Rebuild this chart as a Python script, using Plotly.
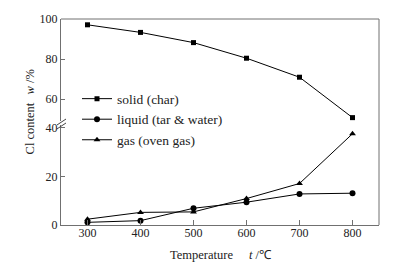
import plotly.graph_objects as go

temps = [300, 400, 500, 600, 700, 800]
solid = [97.1, 93.3, 88.2, 80.4, 70.9, 50.7]
liquid = [1.1, 1.8, 6.9, 9.4, 12.8, 13.1]
gas = [2.4, 5.2, 5.4, 10.9, 17.1, 37.6]
x_ticks = [300, 400, 500, 600, 700, 800]
y_low_ticks = [0, 20, 40]
y_up_ticks = [60, 80, 100]

FONT = "Liberation Serif, Times New Roman, serif"
AX = "#707070"

# plot area pixels
L, R, T, B = 61, 379, 17, 225
W, H = R - L, B - T
def px(x): return (x - L) / W
def py(y): return (B - y) / H

fig = go.Figure()
fig.add_trace(go.Scatter(x=temps, y=solid, name="solid (char)", mode="lines+markers",
                         yaxis="y2", line=dict(color="black", width=1),
                         marker=dict(symbol="square", size=5, color="black"),
                         legendgroup="a"))
fig.add_trace(go.Scatter(x=temps, y=liquid, name="liquid (tar & water)", mode="lines+markers",
                         line=dict(color="black", width=1),
                         marker=dict(symbol="circle", size=6, color="black"),
                         legendgroup="b"))
fig.add_trace(go.Scatter(x=temps, y=gas, name="gas (oven gas)", mode="lines+markers",
                         line=dict(color="black", width=1),
                         marker=dict(symbol="triangle-up", size=6, color="black"),
                         legendgroup="c"))

low_top = py(124)
up_bot = py(120)

fig.update_layout(
    width=393, height=266,
    margin=dict(l=L, r=393 - R, t=T, b=266 - B, pad=0),
    paper_bgcolor="white", plot_bgcolor="white",
    font=dict(family=FONT, size=12, color="#222"),
    showlegend=True,
    legend=dict(x=px(77), y=py(82), xanchor="left", yanchor="top",
                bgcolor="rgba(0,0,0,0)", itemwidth=30, traceorder="grouped",
                tracegroupgap=0, font=dict(family=FONT, size=13.5, color="#222")),
    xaxis=dict(range=[250, 850], tickvals=x_ticks, ticks="inside", ticklen=5,
               tickcolor=AX, showline=True, linecolor=AX, linewidth=1,
               ticklabelstandoff=-3,
               showgrid=False, zeroline=False, anchor="y"),
    yaxis=dict(domain=[0, low_top], range=[0, (B - 124) / 2.45], tickvals=y_low_ticks,
               ticks="inside", ticklen=4, tickcolor=AX, showline=True, linecolor=AX,
               linewidth=1, showgrid=False, zeroline=False, anchor="x"),
    yaxis2=dict(domain=[up_bot, 1], range=[100 - (120 - T) / 2.02, 100], tickvals=y_up_ticks,
                ticks="inside", ticklen=4, tickcolor=AX, showline=True, linecolor=AX,
                linewidth=1, showgrid=False, zeroline=False, anchor="x"),
)

# frame top and right
fig.add_shape(type="line", xref="paper", yref="paper", x0=0, x1=1, y0=1, y1=1,
              line=dict(color=AX, width=1))
fig.add_shape(type="line", xref="paper", yref="paper", x0=1, x1=1, y0=0, y1=1,
              line=dict(color=AX, width=1))
# axis break marks
for dy in (-2, 2):
    fig.add_shape(type="line", xref="paper", yref="paper",
                  x0=px(57), x1=px(66), y0=py(126 + dy), y1=py(120 + dy),
                  line=dict(color="#444", width=1))

# axis titles
ann = dict(xref="paper", yref="paper", showarrow=False, xanchor="center",
           yanchor="middle", font=dict(size=12.5))
fig.add_annotation(text="Cl content", x=px(30), y=py(127.5), textangle=-90, **ann)
fig.add_annotation(text="<i>w</i> /%", x=px(30), y=py(80), textangle=-90, **ann)
fig.add_annotation(text="Temperature", x=px(201.5), y=py(255), **ann)
fig.add_annotation(text="<i>t</i> /℃", x=px(260), y=py(255), **ann)

fig.write_html("out.html", config={"displayModeBar": False},
               post_script="document.body.style.margin='0';document.body.style.overflow='hidden';")
